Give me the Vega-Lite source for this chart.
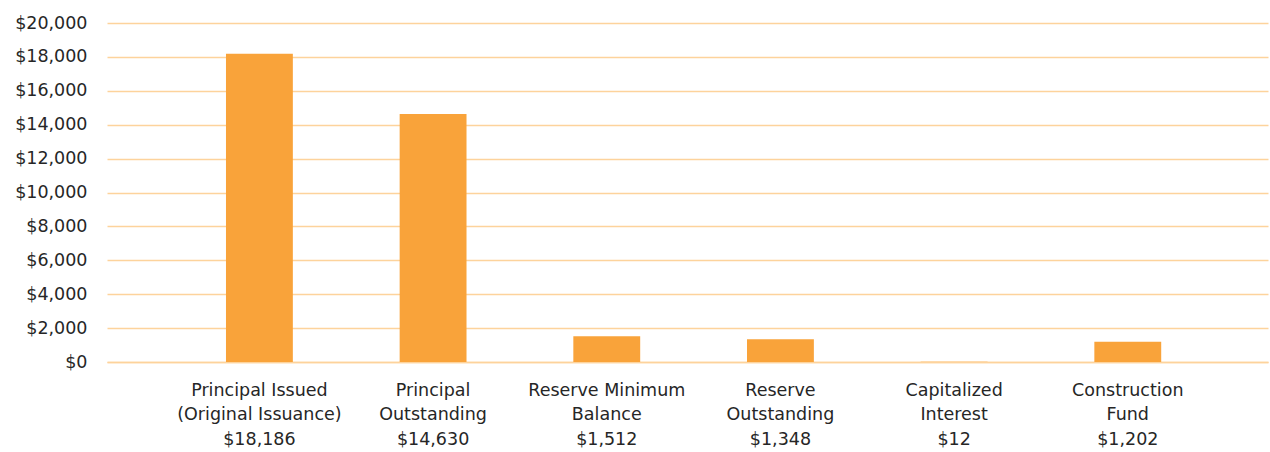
{
  "$schema": "https://vega.github.io/schema/vega-lite/v6.json",
  "autosize": {"type": "none"},
  "width": 1161,
  "height": 339,
  "padding": {"left": 107, "top": 23, "right": 2, "bottom": 90},
  "background": "white",
  "config": {"view": {"stroke": null}, "font": "DejaVu Sans"},
  "data": {
    "values": [
      {"category": "Principal Issued|(Original Issuance)|$18,186", "amount": 18186},
      {"category": "Principal|Outstanding|$14,630", "amount": 14630},
      {"category": "Reserve Minimum|Balance|$1,512", "amount": 1512},
      {"category": "Reserve|Outstanding|$1,348", "amount": 1348},
      {"category": "Capitalized|Interest|$12", "amount": 12},
      {"category": "Construction|Fund|$1,202", "amount": 1202}
    ]
  },
  "mark": {"type": "bar", "color": "#F9A33A"},
  "encoding": {
    "x": {
      "field": "category",
      "type": "nominal",
      "sort": null,
      "scale": {"paddingInner": 0.615, "paddingOuter": 0.65, "align": 0.527},
      "axis": {
        "title": null,
        "labelAngle": 0,
        "labelExpr": "split(datum.label, '|')",
        "labelFontSize": 17.5,
        "labelColor": "#262626",
        "labelLineHeight": 24.5,
        "labelPadding": 19,
        "labelBaseline": "top",
        "labelLimit": 300,
        "ticks": false,
        "domain": true,
        "domainColor": "#FDD39C",
        "domainWidth": 1.5
      }
    },
    "y": {
      "field": "amount",
      "type": "quantitative",
      "scale": {"domain": [0, 20000], "nice": false},
      "axis": {
        "title": null,
        "values": [0, 2000, 4000, 6000, 8000, 10000, 12000, 14000, 16000, 18000, 20000],
        "format": "$,.0f",
        "labelFontSize": 17.5,
        "labelColor": "#262626",
        "labelPadding": 20,
        "ticks": false,
        "domain": false,
        "grid": true,
        "gridColor": "#FDD39C",
        "gridWidth": 1.5
      }
    }
  }
}
